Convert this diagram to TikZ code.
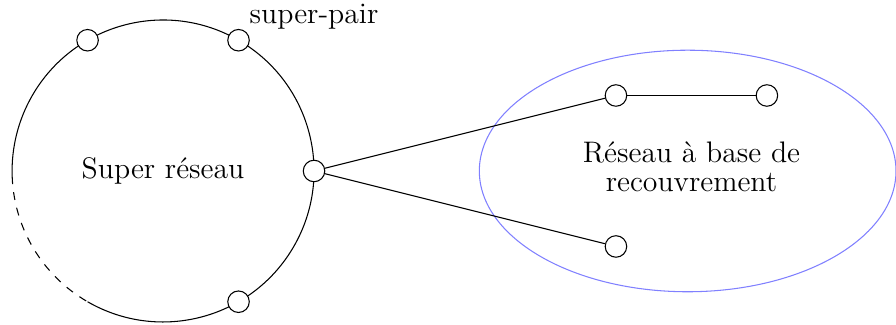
\documentclass[tikz,border=0pt]{standalone}
\begin{document}
\begin{tikzpicture}[x=1cm,y=1cm,font=\fontsize{11.2}{11}\selectfont]
\tikzset{
    peer/.style={draw,circle,fill=white,inner sep=0pt,minimum size=2.85mm},
    link/.style={thin},
    overlay/.style={draw=blue!50}
}
\useasboundingbox (-2.16,-2.03) rectangle (9.71,2.265);
% super network ring
\draw (240:2) arc[start angle=240,end angle=542,radius=2];
\draw[dashed] (182:2) arc[start angle=182,end angle=240,radius=2];
\node at (0,0) {Super r\'eseau};
% overlay network
\draw[overlay] (6.95,0) ellipse [x radius=2.76,y radius=1.6];
\node[align=center] at (7,0.06) {R\'eseau \`a base de\\recouvrement};
% peers
\node[peer] (sp1) at (120:2) {};
\node[peer,label={[inner sep=1pt]above right:super-pair}] (sp2) at (60:2) {};
\node[peer] (hub) at (0:2) {};
\node[peer] (sp4) at (-60:2) {};
\node[peer] (ov1) at (6,1) {};
\node[peer] (ov2) at (8,1) {};
\node[peer] (ov3) at (6,-1) {};
\draw[link] (hub) -- (ov1);
\draw[link] (hub) -- (ov3);
\draw[link] (ov1) -- (ov2);
\end{tikzpicture}
\end{document}
